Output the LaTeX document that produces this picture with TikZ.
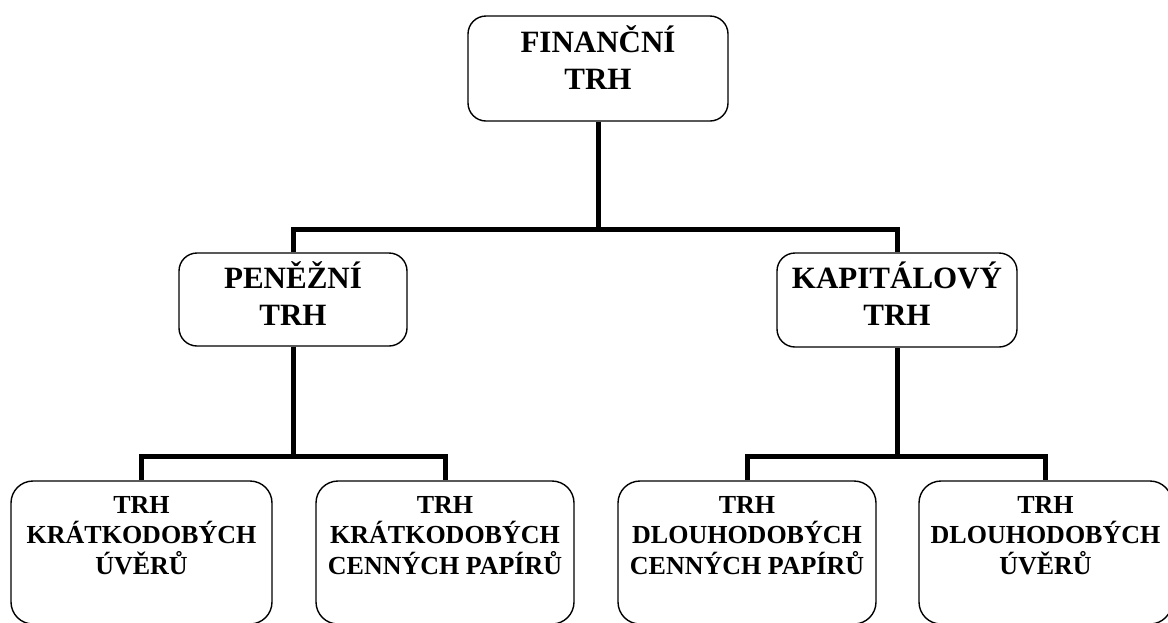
\documentclass[tikz,border=0pt]{standalone}
\usepackage{fontspec}
\setmainfont{Liberation Serif}
\usepackage{tikz}

\begin{document}
\begin{tikzpicture}[x=1pt, y=-1pt,
    box/.style={draw, fill=white, rounded corners=18pt, line width=1.4pt, inner sep=0pt, align=center, font=\bfseries\fontsize{31}{37}\selectfont},
    leaf/.style={box, rounded corners=22pt, text height=93pt, text depth=50pt, font=\bfseries\fontsize{26}{30.5}\selectfont},
    link/.style={line width=5pt}]
    \useasboundingbox (0,0) rectangle (1168,622);

    % Define positions of the boxes, from the top down
    \node[box, minimum width=260pt, text height=73pt, text depth=32pt] (fin) at (598, 68.5) {FINANČNÍ\\TRH};
    \node[box, minimum width=228pt, text height=72pt, text depth=21pt] (pen) at (293, 299.5) {PENĚŽNÍ\\TRH};
    \node[box, minimum width=240pt, text height=72pt, text depth=22pt] (kap) at (897, 300) {KAPITÁLOVÝ\\TRH};

    \node[leaf, minimum width=261pt] (kuv) at (141.5, 552.5) {TRH\\KRÁTKODOBÝCH\\ÚVĚRŮ};
    \node[leaf, minimum width=258pt] (kcp) at (445, 552.5) {TRH\\KRÁTKODOBÝCH\\CENNÝCH PAPÍRŮ};
    \node[leaf, minimum width=258pt] (dcp) at (747, 552.5) {TRH\\DLOUHODOBÝCH\\CENNÝCH PAPÍRŮ};
    \node[leaf, minimum width=253pt] (duv) at (1045.5, 552.5) {TRH\\DLOUHODOBÝCH\\ÚVĚRŮ};

    % Junctions of the connectors
    \coordinate (j1) at (598, 229);
    \coordinate (j2) at (293, 456);
    \coordinate (j3) at (897, 456);

    % Draw connectors between the levels
    \draw[link] (fin) -- (j1);
    \draw[link] (pen.north) |- (j1) -| (kap.north);
    \draw[link] (pen) -- (j2);
    \draw[link] (kuv.north) |- (j2) -| (kcp.north);
    \draw[link] (kap) -- (j3);
    \draw[link] (dcp.north) |- (j3) -| (duv.north);
\end{tikzpicture}
\end{document}
